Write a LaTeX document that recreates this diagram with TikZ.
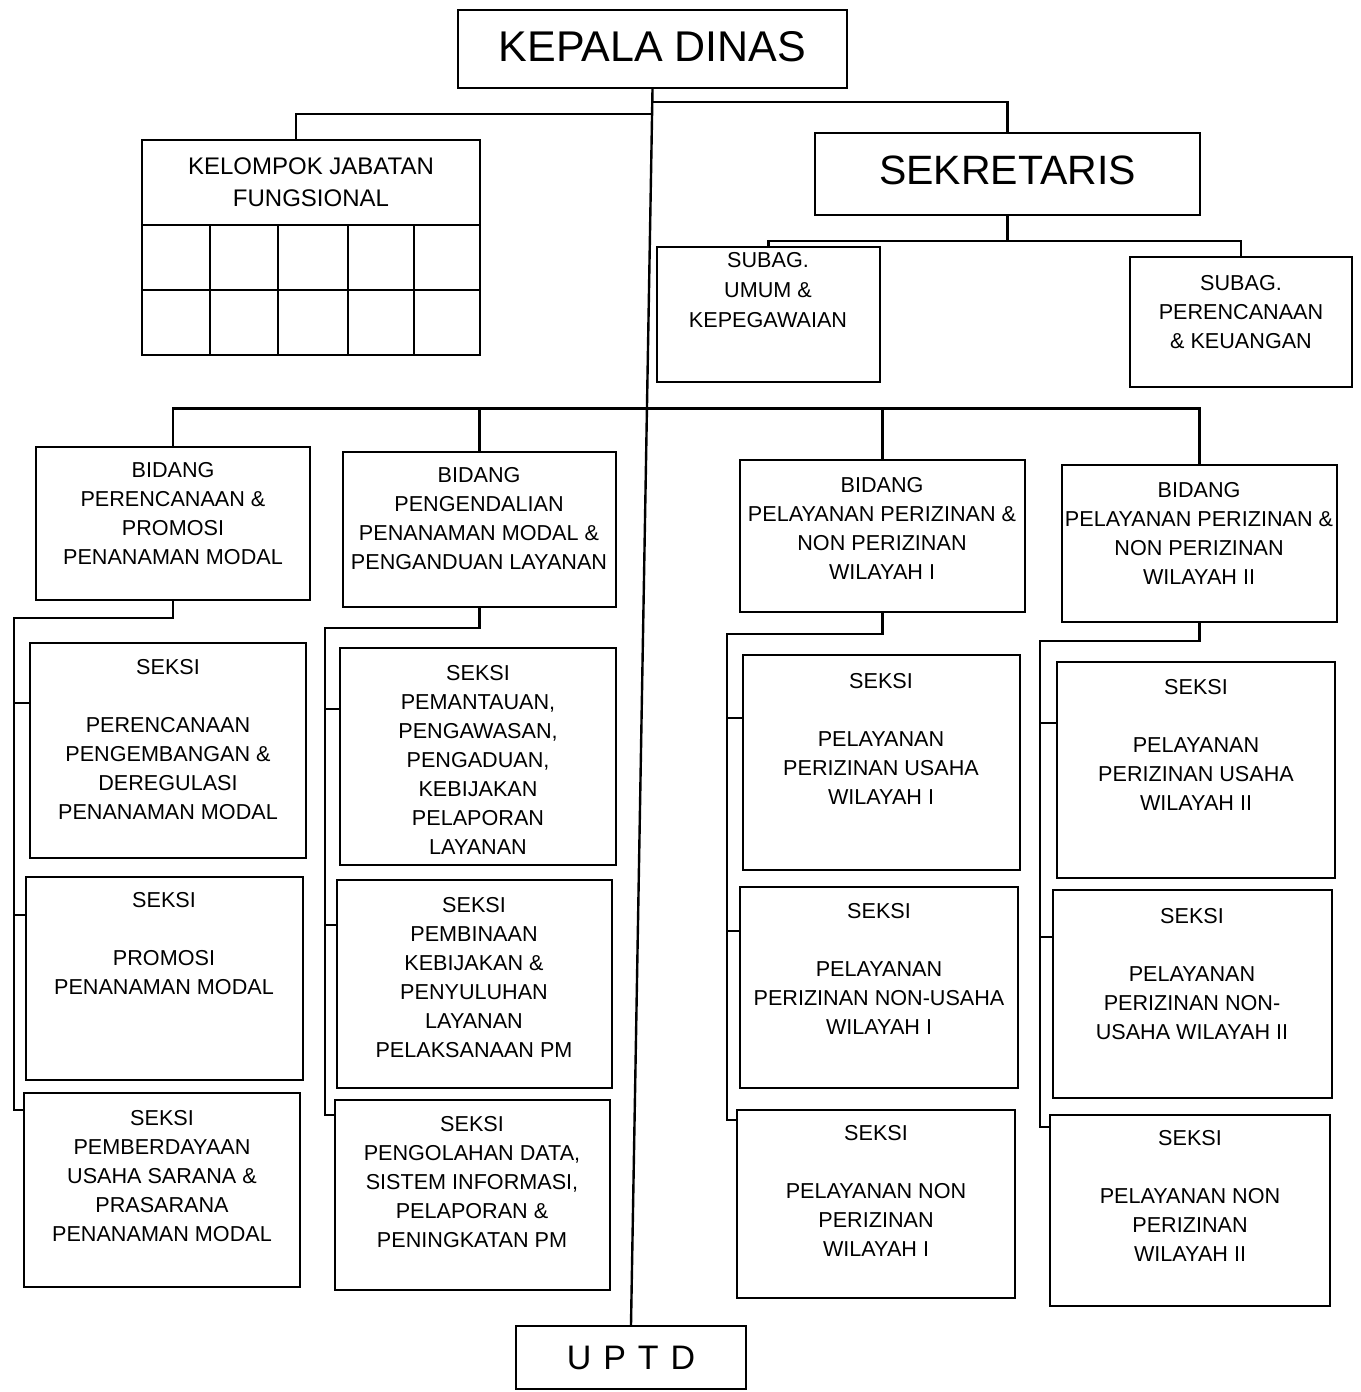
\documentclass[tikz,border=0pt]{standalone}
\usepackage{fontspec}
\setmainfont{Liberation Sans}
\usetikzlibrary{fit,calc}

\tikzset{
  orgbox/.style={draw, line width=1.2pt, inner sep=0pt},
  orgtext/.style={align=center, inner sep=0pt, anchor=north, font=\fontsize{10.8}{14.5}\selectfont},
  link/.style={line width=1.2pt},
}

\begin{document}
\begin{tikzpicture}[x=0.5pt, y=-0.5pt]
\useasboundingbox (0,0) rectangle (1360,1392);

% pimpinan
\node[orgbox, fit={(458,10) (847,88)}] (kd) {};
\node[inner sep=0pt, font=\fontsize{21.5}{26}\selectfont] (kdt) at ([yshift=1pt]kd.center) {KEPALA DINAS};
\node[orgbox, fit={(815,133) (1200,215)}] (sek) {};
\node[inner sep=0pt, font=\fontsize{20.5}{25}\selectfont] (sekt) at ([yshift=2pt]sek.center) {SEKRETARIS};
\node[orgbox, fit={(516,1326) (746,1389)}] (uptd) {};
\node[inner sep=0pt, font=\fontsize{17}{20}\selectfont] (uptdt) at (uptd.center) {U\hspace{0.35em}P\hspace{0.35em}T\hspace{0.35em}D};

% kelompok jabatan fungsional
\node[orgbox, fit={(142,140) (480,355)}] (kjf) {};
\node[orgtext, font=\fontsize{12}{16}\selectfont] (kjft) at (311,157) {KELOMPOK JABATAN\\FUNGSIONAL};
\draw[link] (kjf.west |- 0,225) -- (kjf.east |- 0,225);
\draw[link] (kjf.west |- 0,290) -- (kjf.east |- 0,290);
\foreach \gx in {210,278,348,414} \draw[link] (\gx,225) -- (\gx,355);

% subbagian
\node[orgbox, fit={(657,247) (880,382)}] (sub1) {};
\node[orgtext, font=\fontsize{10.8}{15}\selectfont] (sub1t) at (768,252) {SUBAG.\\UMUM \&\\KEPEGAWAIAN};
\node[orgbox, fit={(1130,257) (1352,387)}] (sub2) {};
\node[orgtext] (sub2t) at (1241,275) {SUBAG.\\PERENCANAAN\\\& KEUANGAN};

% bidang
\node[orgbox, fit={(36,447) (310,600)}] (b1) {};
\node[orgtext] (b1t) at (173,462) {BIDANG\\PERENCANAAN \&\\PROMOSI\\PENANAMAN MODAL};
\node[orgbox, fit={(343,452) (616,607)}] (b2) {};
\node[orgtext] (b2t) at (479,467) {BIDANG\\PENGENDALIAN\\PENANAMAN MODAL \&\\PENGANDUAN LAYANAN};
\node[orgbox, fit={(740,460) (1025,612)}] (b3) {};
\node[orgtext] (b3t) at (882,477) {BIDANG\\PELAYANAN PERIZINAN \&\\NON PERIZINAN\\WILAYAH I};
\node[orgbox, fit={(1062,465) (1337,622)}] (b4) {};
\node[orgtext] (b4t) at (1199,482) {BIDANG\\PELAYANAN PERIZINAN \&\\NON PERIZINAN\\WILAYAH II};

% seksi bidang 1
\node[orgbox, fit={(30,643) (306,858)}] (sA1) {};
\node[orgtext] (sA1t) at (168,659) {SEKSI\\[14.5pt]PERENCANAAN\\PENGEMBANGAN \&\\DEREGULASI\\PENANAMAN MODAL};
\node[orgbox, fit={(26,877) (303,1080)}] (sA2) {};
\node[orgtext] (sA2t) at (164,892) {SEKSI\\[14.5pt]PROMOSI\\PENANAMAN MODAL};
\node[orgbox, fit={(24,1093) (300,1287)}] (sA3) {};
\node[orgtext] (sA3t) at (162,1110) {SEKSI\\PEMBERDAYAAN\\USAHA SARANA \&\\PRASARANA\\PENANAMAN MODAL};

% seksi bidang 2
\node[orgbox, fit={(340,648) (616,865)}] (sB1) {};
\node[orgtext] (sB1t) at (478,665) {SEKSI\\PEMANTAUAN,\\PENGAWASAN,\\PENGADUAN,\\KEBIJAKAN\\PELAPORAN\\LAYANAN};
\node[orgbox, fit={(337,880) (612,1088)}] (sB2) {};
\node[orgtext] (sB2t) at (474,897) {SEKSI\\PEMBINAAN\\KEBIJAKAN \&\\PENYULUHAN\\LAYANAN\\PELAKSANAAN PM};
\node[orgbox, fit={(335,1100) (610,1290)}] (sB3) {};
\node[orgtext] (sB3t) at (472,1116) {SEKSI\\PENGOLAHAN DATA,\\SISTEM INFORMASI,\\PELAPORAN \&\\PENINGKATAN PM};

% seksi bidang 3
\node[orgbox, fit={(743,655) (1020,870)}] (sC1) {};
\node[orgtext] (sC1t) at (881,673) {SEKSI\\[14.5pt]PELAYANAN\\PERIZINAN USAHA\\WILAYAH I};
\node[orgbox, fit={(740,887) (1018,1088)}] (sC2) {};
\node[orgtext] (sC2t) at (879,903) {SEKSI\\[14.5pt]PELAYANAN\\PERIZINAN NON-USAHA\\WILAYAH I};
\node[orgbox, fit={(737,1110) (1015,1298)}] (sC3) {};
\node[orgtext] (sC3t) at (876,1125) {SEKSI\\[14.5pt]PELAYANAN NON\\PERIZINAN\\WILAYAH I};

% seksi bidang 4
\node[orgbox, fit={(1057,662) (1335,878)}] (sD1) {};
\node[orgtext] (sD1t) at (1196,679) {SEKSI\\[14.5pt]PELAYANAN\\PERIZINAN USAHA\\WILAYAH II};
\node[orgbox, fit={(1053,890) (1332,1098)}] (sD2) {};
\node[orgtext] (sD2t) at (1192,908) {SEKSI\\[14.5pt]PELAYANAN\\PERIZINAN NON-\\USAHA WILAYAH II};
\node[orgbox, fit={(1050,1115) (1330,1306)}] (sD3) {};
\node[orgtext] (sD3t) at (1190,1130) {SEKSI\\[14.5pt]PELAYANAN NON\\PERIZINAN\\WILAYAH II};

% garis komando
\path (kd.south) -- (uptd.north) coordinate[pos=0.0105] (jS) coordinate[pos=0.0202] (jK) coordinate[pos=0.2585] (jB);
\draw[link] (kd.south) -- (uptd.north);
\draw[link] (jS) -| (sek.north);
\draw[link] (jK) -| ([xshift=-7.5pt]kjf.north);
\draw[link] (sek.south) -- ++(0,25) coordinate (jSub);
\draw[link] (jSub) -| (sub1.north);
\draw[link] (jSub) -| (sub2.north);
\foreach \b in {b1,b2,b3,b4} \draw[link] (jB) -| (\b.north);

% bidang ke seksi
\draw[link] (b1.south) -- ++(0,17) -| (14,1110) -- (sA3.west |- 0,1110);
\draw[link] (14,703) -- (sA1.west |- 0,703);
\draw[link] (14,915) -- (sA2.west |- 0,915);

\draw[link] (b2.south) -- ++(0,20) -| (325,1115) -- (sB3.west |- 0,1115);
\draw[link] (325,709) -- (sB1.west |- 0,709);
\draw[link] (325,925) -- (sB2.west |- 0,925);

\draw[link] (b3.south) -- ++(0,21) -| (727,1120) -- (sC3.west |- 0,1120);
\draw[link] (727,718) -- (sC1.west |- 0,718);
\draw[link] (727,931) -- (sC2.west |- 0,931);

\draw[link] (b4.south) -- ++(0,18) -| (1040,1127) -- (sD3.west |- 0,1127);
\draw[link] (1040,723) -- (sD1.west |- 0,723);
\draw[link] (1040,937) -- (sD2.west |- 0,937);
\end{tikzpicture}
\end{document}
